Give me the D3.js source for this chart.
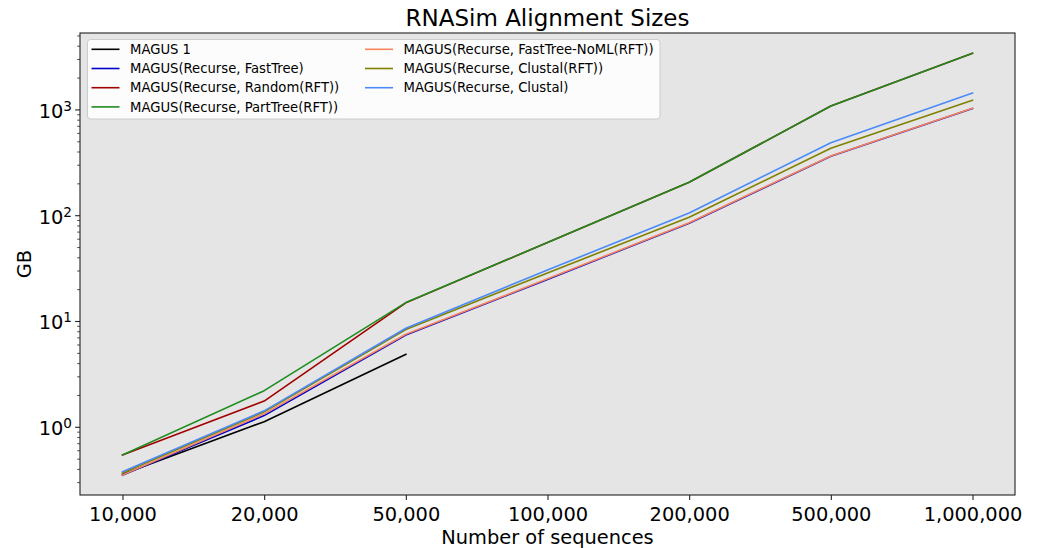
<!DOCTYPE html>
<html>
<head>
<meta charset="utf-8">
<script src="https://cdn.jsdelivr.net/npm/d3@7"></script>
<style>
  html, body { margin: 0; padding: 0; background: #fff; }
  svg { display: block; font-family: "DejaVu Sans", sans-serif; }
</style>
</head>
<body>
<svg id="chart" width="1041" height="548"></svg>
<script>
// ---- data ----
const categories = ["10,000", "20,000", "50,000", "100,000", "200,000", "500,000", "1,000,000"];
const magus1      = [0.36, 1.13, 4.9];
const fastTree    = [0.352, 1.29, 7.45, 25.0, 85.0, 364, 1030];
const randomRFT   = [0.547, 1.77, 15.0, 55.8, 207, 1088, 3428];
const partTreeRFT = [0.547, 2.22, 15.1, 55.8, 207, 1088, 3428];
const noMLRFT     = [0.354, 1.34, 7.57, 25.3, 85.9, 367, 1036];
const clustalRFT  = [0.37, 1.40, 8.4, 28.8, 96.6, 434, 1233];
const clustal     = [0.38, 1.43, 8.63, 30.7, 106, 490, 1445];
const yTickExps   = [0, 1, 2, 3];

const series = [
  { name: "MAGUS 1",                             values: magus1,      color: "#000000" },
  { name: "MAGUS(Recurse, FastTree)",            values: fastTree,    color: "#0000cc" },
  { name: "MAGUS(Recurse, Random(RFT))",         values: randomRFT,   color: "#a00000" },
  { name: "MAGUS(Recurse, PartTree(RFT))",       values: partTreeRFT, color: "#1e8c1e" },
  { name: "MAGUS(Recurse, FastTree-NoML(RFT))",  values: noMLRFT,     color: "#f7845a" },
  { name: "MAGUS(Recurse, Clustal(RFT))",        values: clustalRFT,  color: "#808000" },
  { name: "MAGUS(Recurse, Clustal)",             values: clustal,     color: "#4a8af7" }
];

// ---- layout ----
const L = 80, R = 1015, T = 33, B = 495;
const svg = d3.select("#chart");

const x = d3.scalePoint().domain(categories).range([L, R]).padding(0.3);
const y = d3.scaleLog().domain([Math.pow(10, -0.64), Math.pow(10, 3.727)]).range([B, T]);

// background
svg.append("rect").attr("x", L).attr("y", T).attr("width", R - L).attr("height", B - T)
  .attr("fill", "#e5e5e5");

// clip
svg.append("clipPath").attr("id", "clip").append("rect")
  .attr("x", L).attr("y", T).attr("width", R - L).attr("height", B - T);

// lines
const line = d3.line().x((d, i) => x(categories[i])).y(d => y(d));
const g = svg.append("g").attr("clip-path", "url(#clip)");
series.forEach(s => {
  g.append("path").datum(s.values)
    .attr("d", line)
    .attr("fill", "none")
    .attr("stroke", s.color)
    .attr("stroke-width", 1.6)
    .attr("stroke-linejoin", "round")
    .attr("stroke-linecap", "square");
});

// spines
svg.append("rect").attr("x", L).attr("y", T).attr("width", R - L).attr("height", B - T)
  .attr("fill", "none").attr("stroke", "#222").attr("stroke-width", 1.1);

// x axis
const xAxis = d3.axisBottom(x).tickSize(4.9).tickPadding(4);
const gx = svg.append("g").attr("transform", `translate(0,${B})`).call(xAxis);
gx.select(".domain").remove();
gx.selectAll(".tick line").attr("stroke", "#222").attr("stroke-width", 1.1);
gx.selectAll(".tick text").attr("font-size", "19.4px").attr("fill", "#000")
  .attr("font-family", "DejaVu Sans").attr("dy", null).attr("y", 25.5);

// y axis: minor ticks
const yMinor = [];
const [y0, y1] = y.domain();
for (let e = -1; e <= 3; e++) {
  for (let m = 2; m <= 9; m++) {
    const v = m * Math.pow(10, e);
    if (v >= y0 && v <= y1) yMinor.push(v);
  }
}
const yMajor = yTickExps.map(e => Math.pow(10, e));
const gy = svg.append("g");
gy.selectAll("line.minor").data(yMinor).enter().append("line")
  .attr("x1", L).attr("x2", L - 2.8)
  .attr("y1", d => y(d)).attr("y2", d => y(d))
  .attr("stroke", "#222").attr("stroke-width", 0.8);
gy.selectAll("line.major").data(yMajor).enter().append("line")
  .attr("x1", L).attr("x2", L - 4.9)
  .attr("y1", d => y(d)).attr("y2", d => y(d))
  .attr("stroke", "#222").attr("stroke-width", 1.1);
const lbl = gy.selectAll("text.ylab").data(yTickExps).enter().append("text")
  .attr("x", 72).attr("y", d => y(Math.pow(10, d)) + 8)
  .attr("text-anchor", "end").attr("font-size", "19.4px").attr("fill", "#000");
lbl.append("tspan").text("10");
lbl.append("tspan").attr("font-size", "13.6px").attr("dy", -7).text(d => d);

// axis labels
svg.append("text").attr("x", (L + R) / 2).attr("y", 543.5).attr("text-anchor", "middle")
  .attr("font-size", "19.4px").text("Number of sequences");
svg.append("text").attr("transform", `translate(30.5,${(T + B) / 2}) rotate(-90)`)
  .attr("text-anchor", "middle").attr("font-size", "19.4px").text("GB");

// title
svg.append("text").attr("x", (L + R) / 2).attr("y", 26).attr("text-anchor", "middle")
  .attr("font-size", "23px").text("RNASim Alignment Sizes");

// legend
const lg = svg.append("g");
lg.append("rect").attr("x", 87.5).attr("y", 39.5).attr("width", 572.5).attr("height", 79.5)
  .attr("rx", 3).attr("fill", "#fcfcfc").attr("stroke", "#cccccc").attr("stroke-width", 1);
const rowY = [49.3, 68.5, 87.7, 106.9];
const colX = [91.5, 365];
series.forEach((s, i) => {
  const col = i < 4 ? 0 : 1;
  const row = i < 4 ? i : i - 4;
  const xx = colX[col], yy = rowY[row];
  lg.append("line").attr("x1", xx).attr("x2", xx + 28).attr("y1", yy).attr("y2", yy)
    .attr("stroke", s.color).attr("stroke-width", 1.6);
  lg.append("text").attr("x", xx + 38.5).attr("y", yy).attr("dy", "0.36em")
    .attr("font-size", "13.2px").attr("fill", "#000").text(s.name);
});
</script>
</body>
</html>
